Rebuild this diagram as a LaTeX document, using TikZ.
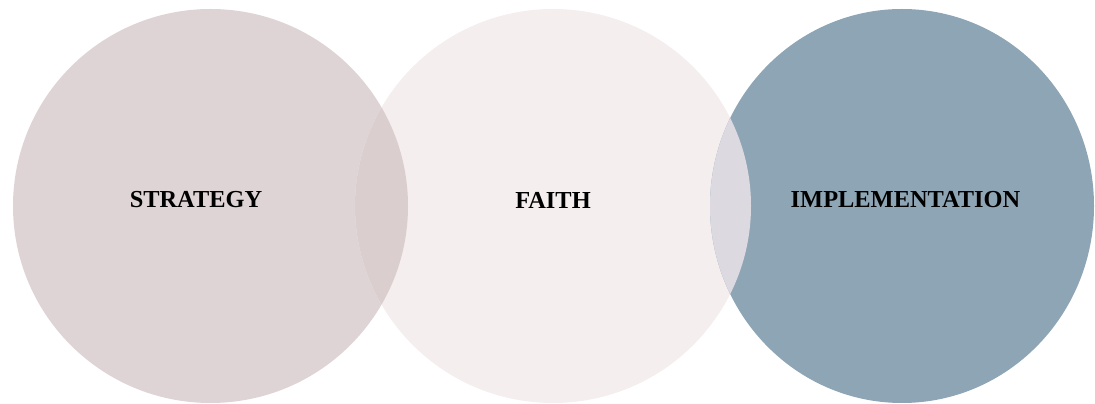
\documentclass[tikz,border=0pt]{standalone}
\usepackage{fontspec}
\setmainfont{Liberation Serif}
\usetikzlibrary{positioning}
\usetikzlibrary{shapes.geometric}

\definecolor{strategyfill}{HTML}{DFD4D5}
\definecolor{faithfill}{HTML}{F4EEEE}
\definecolor{implfill}{HTML}{8EA5B5}
\definecolor{overlapleft}{HTML}{DACECF}
\definecolor{overlapright}{HTML}{DCDAE0}

\tikzset{
    bubble/.style={ellipse, minimum width=#1, minimum height=394pt, inner sep=0pt},
    label text/.style={font=\fontsize{24.4}{28}\selectfont\bfseries, text=black}
}

\begin{document}
\begin{tikzpicture}[x=1pt, y=1pt]
    \useasboundingbox (0,0) rectangle (1095,404);
    \node[bubble=395pt, fill=strategyfill] (S) at (210.5,198) {};
\node[bubble=396pt, fill=faithfill] (F) at (553,198) {};
\node[bubble=384pt, fill=implfill] (I) at (902,198) {};

% overlaps
\begin{scope}
    \clip (210.5,198) ellipse [x radius=197.5, y radius=197];
    \fill[overlapleft] (553,198) ellipse [x radius=198, y radius=197];
\end{scope}
\begin{scope}
    \clip (902,198) ellipse [x radius=192, y radius=197];
    \fill[overlapright] (553,198) ellipse [x radius=198, y radius=197];
\end{scope}

\node[label text] (strategy) at (196,204) {STRATEGY};
\node[label text] (faith) at (553,204) {FAITH};
\node[label text] (impl) at (905.5,204) {IMPLEMENTATION};
\end{tikzpicture}
\end{document}
